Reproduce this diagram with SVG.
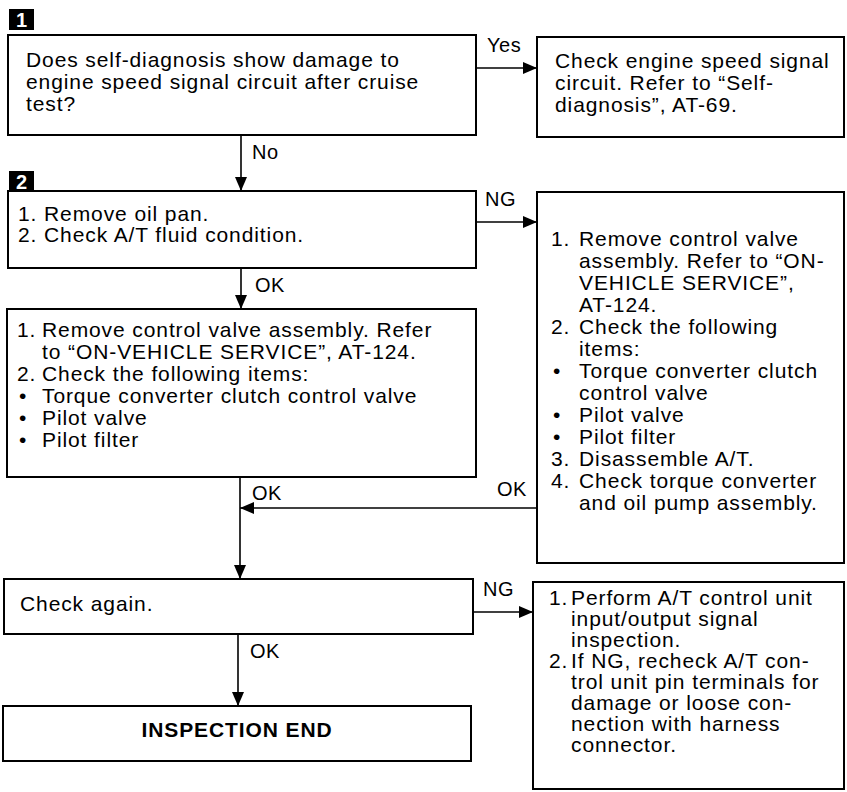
<svg xmlns="http://www.w3.org/2000/svg" width="847" height="792" viewBox="0 0 847 792">
<defs>
<marker id="arr" markerWidth="14" markerHeight="12" refX="14" refY="6" orient="auto" markerUnits="userSpaceOnUse">
<path d="M0,0 L14,6 L0,12 Z" fill="#000"/>
</marker>
<style>
.box{fill:#fff;stroke:#000;stroke-width:2}
.t{font-family:"Liberation Sans",Arial,sans-serif;font-size:21px;letter-spacing:0.9px;fill:#000}
.b{font-weight:bold}
.lbl{font-family:"Liberation Sans",Arial,sans-serif;font-size:20px;letter-spacing:0.5px;fill:#000}
.badge{fill:#000}
.bt{font-family:"Liberation Sans",Arial,sans-serif;font-size:20px;font-weight:bold;fill:#fff}
.c{fill:none;stroke:#000;stroke-width:1.6}
</style>
</defs>
<rect width="847" height="792" fill="#fff"/>

<g id="badge1"><rect class="badge" x="9" y="9" width="25" height="21"/><text class="bt" x="21.5" y="27" text-anchor="middle">1</text></g>
<g id="badge2"><rect class="badge" x="9" y="171" width="25" height="21"/><text class="bt" x="21.5" y="189" text-anchor="middle">2</text></g>

<g id="n1">
<rect class="box" x="8" y="35" width="468" height="100"/>
<text class="t" x="26" y="67">Does self-diagnosis show damage to</text>
<text class="t" x="26" y="89">engine speed signal circuit after cruise</text>
<text class="t" x="26" y="111">test?</text>
</g>

<g id="nYes">
<rect class="box" x="537" y="37" width="307" height="100"/>
<text class="t" x="555" y="68">Check engine speed signal</text>
<text class="t" x="555" y="90">circuit. Refer to “Self-</text>
<text class="t" x="555" y="112">diagnosis”, AT-69.</text>
</g>

<g id="n2">
<rect class="box" x="8" y="191" width="468" height="77"/>
<text class="t" x="18" y="221">1. Remove oil pan.</text>
<text class="t" x="18" y="242">2. Check A/T fluid condition.</text>
</g>

<g id="n3">
<rect class="box" x="537" y="192" width="307" height="371"/>
<text class="t" x="551" y="246">1.</text><text class="t" x="579" y="246">Remove control valve</text>
<text class="t" x="579" y="268">assembly. Refer to “ON-</text>
<text class="t" x="579" y="290">VEHICLE SERVICE”,</text>
<text class="t" x="579" y="312">AT-124.</text>
<text class="t" x="551" y="334">2.</text><text class="t" x="579" y="334">Check the following</text>
<text class="t" x="579" y="356">items:</text>
<text class="t" x="553" y="378">•</text><text class="t" x="579" y="378">Torque converter clutch</text>
<text class="t" x="579" y="400">control valve</text>
<text class="t" x="553" y="422">•</text><text class="t" x="579" y="422">Pilot valve</text>
<text class="t" x="553" y="444">•</text><text class="t" x="579" y="444">Pilot filter</text>
<text class="t" x="551" y="466">3.</text><text class="t" x="579" y="466">Disassemble A/T.</text>
<text class="t" x="551" y="488">4.</text><text class="t" x="579" y="488">Check torque converter</text>
<text class="t" x="579" y="510">and oil pump assembly.</text>
</g>

<g id="n4">
<rect class="box" x="7" y="309" width="469" height="168"/>
<text class="t" x="17" y="337">1.</text><text class="t" x="42" y="337">Remove control valve assembly. Refer</text>
<text class="t" x="42" y="359">to “ON-VEHICLE SERVICE”, AT-124.</text>
<text class="t" x="17" y="381">2.</text><text class="t" x="42" y="381">Check the following items:</text>
<text class="t" x="19" y="403">•</text><text class="t" x="42" y="403">Torque converter clutch control valve</text>
<text class="t" x="19" y="425">•</text><text class="t" x="42" y="425">Pilot valve</text>
<text class="t" x="19" y="447">•</text><text class="t" x="42" y="447">Pilot filter</text>
</g>

<g id="n5">
<rect class="box" x="4" y="579" width="469" height="55"/>
<text class="t" x="20" y="611">Check again.</text>
</g>

<g id="n6">
<rect class="box" x="533" y="582" width="311" height="207"/>
<text class="t" x="549" y="605">1.</text><text class="t" x="571" y="605">Perform A/T control unit</text>
<text class="t" x="571" y="626">input/output signal</text>
<text class="t" x="571" y="647">inspection.</text>
<text class="t" x="549" y="668">2.</text><text class="t" x="571" y="668">If NG, recheck A/T con-</text>
<text class="t" x="571" y="689">trol unit pin terminals for</text>
<text class="t" x="571" y="710">damage or loose con-</text>
<text class="t" x="571" y="731">nection with harness</text>
<text class="t" x="571" y="752">connector.</text>
</g>

<g id="n7">
<rect class="box" x="3" y="706" width="468" height="55"/>
<text class="t b" x="237" y="737" text-anchor="middle">INSPECTION END</text>
</g>

<g id="connectors">
<line class="c" x1="476" y1="68" x2="537" y2="68" marker-end="url(#arr)"/>
<line class="c" x1="241" y1="135" x2="241" y2="191" marker-end="url(#arr)"/>
<line class="c" x1="476" y1="222" x2="537" y2="222" marker-end="url(#arr)"/>
<line class="c" x1="241" y1="268" x2="241" y2="309" marker-end="url(#arr)"/>
<line class="c" x1="537" y1="508" x2="240" y2="508" marker-end="url(#arr)"/>
<line class="c" x1="240" y1="477" x2="240" y2="579" marker-end="url(#arr)"/>
<line class="c" x1="473" y1="612" x2="533" y2="612" marker-end="url(#arr)"/>
<line class="c" x1="238" y1="634" x2="238" y2="706" marker-end="url(#arr)"/>
<text class="lbl" x="487" y="52">Yes</text>
<text class="lbl" x="252" y="159">No</text>
<text class="lbl" x="485" y="206">NG</text>
<text class="lbl" x="255" y="292">OK</text>
<text class="lbl" x="252" y="500">OK</text>
<text class="lbl" x="497" y="496">OK</text>
<text class="lbl" x="483" y="596">NG</text>
<text class="lbl" x="250" y="658">OK</text>
</g>
</svg>
